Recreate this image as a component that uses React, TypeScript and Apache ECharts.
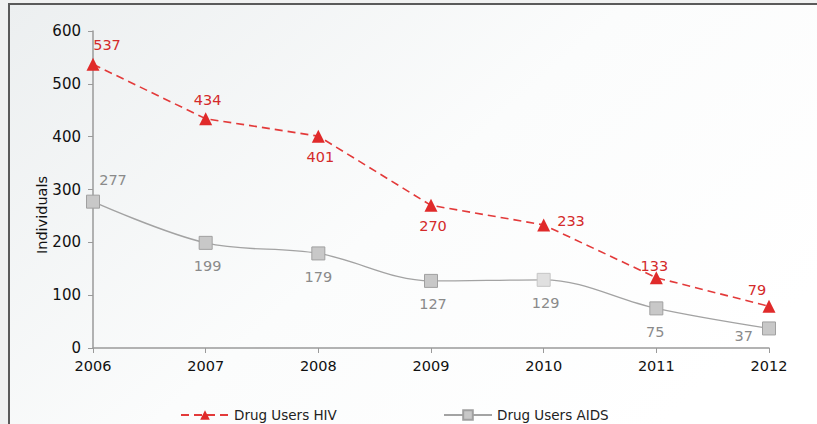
import React, { useEffect, useRef } from "react";
import * as echarts from "echarts";

const years = ["2006", "2007", "2008", "2009", "2010", "2011", "2012"];
const hivValues = [537, 434, 401, 270, 233, 133, 79];
const aidsValues = [277, 199, 179, 127, 129, 75, 37];
const yTicks = { min: 0, max: 600, interval: 100 };
const yAxisTitle = "Individuals";

const hivLabelPos: any[] = [
  { position: "top", offset: [14, 0] },
  { position: "top", offset: [2, 0] },
  { position: "bottom", offset: [2, 2] },
  { position: "bottom", offset: [2, 2] },
  { position: "right", offset: [2, -4] },
  { position: "top", offset: [-2, 7] },
  { position: "top", offset: [-12, 3] },
];
const aidsLabelPos: any[] = [
  { position: "top", offset: [20, -2] },
  { position: "bottom", offset: [2, 4] },
  { position: "bottom", offset: [0, 4] },
  { position: "bottom", offset: [2, 4] },
  { position: "bottom", offset: [2, 4] },
  { position: "bottom", offset: [-1, 4] },
  { position: "left", offset: [-4, 8] },
];

export default function App() {
  const ref = useRef<HTMLDivElement>(null);
  useEffect(() => {
    const chart = echarts.init(ref.current!, null, { renderer: "svg" });
    const font = "'DejaVu Sans', Arial, sans-serif";
    chart.setOption({
      animation: false,
      backgroundColor: "#f0f1f1",
      textStyle: { fontFamily: font },
      graphic: [
        {
          type: "rect",
          z: -10,
          silent: true,
          shape: { x: 9, y: 4, width: 830, height: 440 },
          style: {
            fill: new echarts.graphic.LinearGradient(0, 0, 1, 0.6, [
              { offset: 0, color: "#eceff0" },
              { offset: 0.55, color: "#fbfcfc" },
              { offset: 1, color: "#ffffff" },
            ]),
            stroke: "#5a5a5a",
            lineWidth: 2,
          },
        },
        {
          type: "text",
          x: 42,
          y: 215,
          rotation: Math.PI / 2,
          silent: true,
          style: {
            text: yAxisTitle,
            fill: "#111",
            font: "14.5px 'DejaVu Sans', Arial, sans-serif",
            textAlign: "center",
            textVerticalAlign: "middle",
          },
        },
      ],
      grid: { left: 93, right: 48, top: 31, bottom: 76 },
      legend: [
        {
          data: ["Drug Users HIV"],
          left: 175,
          top: 403,
          itemWidth: 48,
          itemHeight: 12,
          itemGap: 6,
          textStyle: { fontSize: 13.5, color: "#222", fontFamily: font },
        },
        {
          data: ["Drug Users AIDS"],
          left: 438,
          top: 403,
          itemWidth: 48,
          itemHeight: 12,
          itemGap: 6,
          textStyle: { fontSize: 13.5, color: "#222", fontFamily: font },
        },
      ],
      xAxis: {
        type: "category",
        data: years,
        boundaryGap: false,
        axisLine: { lineStyle: { color: "#9a9a9a", width: 1.5 } },
        axisTick: { alignWithLabel: true, length: 5, lineStyle: { color: "#9a9a9a" } },
        axisLabel: { color: "#111", fontSize: 14.5, margin: 10 },
        splitLine: { show: false },
      },
      yAxis: {
        type: "value",
        min: yTicks.min,
        max: yTicks.max,
        interval: yTicks.interval,
        axisLine: { show: true, lineStyle: { color: "#9a9a9a", width: 1.5 } },
        axisTick: { show: true, length: 5, lineStyle: { color: "#9a9a9a" } },
        axisLabel: { color: "#111", fontSize: 15, margin: 12 },
        splitLine: { show: false },
      },
      series: [
        {
          name: "Drug Users HIV",
          type: "line",
          z: 3,
          symbol: "triangle",
          symbolSize: 13,
          itemStyle: { color: "#e02a2a" },
          lineStyle: { color: "#e33a3a", width: 1.6, type: [8, 5] },
          data: hivValues.map((v, i) => ({
            value: v,
            label: {
              show: true,
              position: hivLabelPos[i].position,
              offset: hivLabelPos[i].offset,
              color: "#d42a2a",
              fontSize: 14.5,
            },
          })),
        },
        {
          name: "Drug Users AIDS",
          type: "line",
          smooth: 0.35,
          z: 2,
          symbol: "rect",
          symbolSize: 13,
          itemStyle: { color: "#c8c8c8", borderColor: "#a0a0a0", borderWidth: 1 },
          lineStyle: { color: "#a3a3a3", width: 1.4 },
          data: aidsValues.map((v, i) => ({
            value: v,
            itemStyle:
              i === 4
                ? { color: "#e0e0e0", borderColor: "#c6c6c6", borderWidth: 1 }
                : undefined,
            label: {
              show: true,
              position: aidsLabelPos[i].position,
              offset: aidsLabelPos[i].offset,
              color: "#8a8a8a",
              fontSize: 14.5,
            },
          })),
        },
      ],
    });
    return () => chart.dispose();
  }, []);
  return (
    <div
      ref={ref}
      style={{ position: "fixed", left: 0, top: 0, width: 817, height: 424 }}
    />
  );
}
